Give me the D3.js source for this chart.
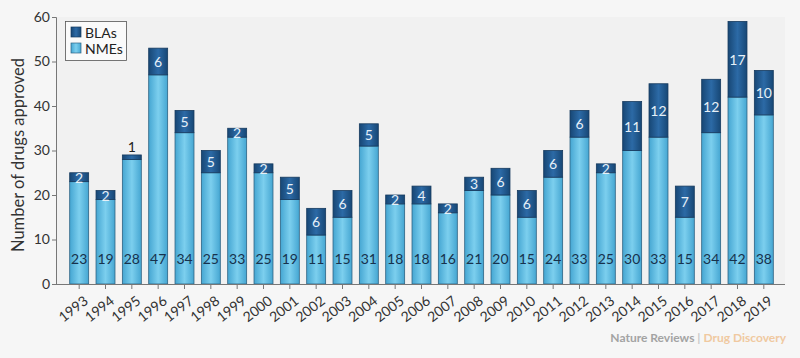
<!DOCTYPE html>
<html><head><meta charset="utf-8">
<script src="https://cdn.jsdelivr.net/npm/d3@7"></script>
<style>
html,body{margin:0;padding:0;background:#f6f6f6;}
svg{display:block;font-family:Lato,"Open Sans",sans-serif;}
</style></head>
<body>
<svg id="chart" width="800" height="358"></svg>
<script>
const years = ["1993","1994","1995","1996","1997","1998","1999","2000","2001","2002","2003","2004","2005","2006","2007","2008","2009","2010","2011","2012","2013","2014","2015","2016","2017","2018","2019"];
const nmes = [23,19,28,47,34,25,33,25,19,11,15,31,18,18,16,21,20,15,24,33,25,30,33,15,34,42,38];
const blas = [2,2,1,6,5,5,2,2,5,6,6,5,2,4,2,3,6,6,6,6,2,11,12,7,12,17,10];
const yTicks = [0,10,20,30,40,50,60];
const seriesNames = ["BLAs","NMEs"];

const svg = d3.select("#chart");
const x0 = 56, x1 = 787, yTop = 17, yBot = 284;

const x = d3.scaleBand().domain(years).range([x0, x1]).paddingInner(0.28).paddingOuter(0.52);
const y = d3.scaleLinear().domain([0, 60]).range([yBot, yTop]);

const defs = svg.append("defs");
function grad(id, edge, mid) {
  const g = defs.append("linearGradient").attr("id", id).attr("x1","0%").attr("x2","100%").attr("y1","0%").attr("y2","0%");
  g.append("stop").attr("offset","0%").attr("stop-color",edge);
  g.append("stop").attr("offset","50%").attr("stop-color",mid);
  g.append("stop").attr("offset","100%").attr("stop-color",edge);
}
grad("gN", "#45a6d2", "#7ccfee");
grad("gB", "#174775", "#2c6aa6");

svg.append("rect").attr("x", x0).attr("y", yTop).attr("width", 785 - x0).attr("height", yBot - yTop).attr("fill", "#f1f1f1");

const data = years.map((yr, i) => ({yr, n: nmes[i], b: blas[i]}));
const bw = x.bandwidth();
const g = svg.append("g");
g.selectAll("rect.n").data(data).join("rect")
  .attr("x", d => x(d.yr)).attr("width", bw)
  .attr("y", d => y(d.n)).attr("height", d => y(0) - y(d.n))
  .attr("fill", "url(#gN)").attr("stroke", "#2e6383").attr("stroke-width", 0.8);
g.selectAll("rect.b").data(data).join("rect")
  .attr("x", d => x(d.yr)).attr("width", bw)
  .attr("y", d => y(d.n + d.b)).attr("height", d => y(d.n) - y(d.n + d.b))
  .attr("fill", "url(#gB)").attr("stroke", "#163a5e").attr("stroke-width", 0.8);

g.selectAll("text.n").data(data).join("text")
  .attr("x", d => x(d.yr) + bw / 2).attr("y", y(5.8))
  .attr("text-anchor", "middle").attr("dominant-baseline", "central")
  .attr("font-size", 14).attr("fill", "#17324d").text(d => d.n);
g.selectAll("text.b").data(data).join("text")
  .attr("x", d => x(d.yr) + bw / 2)
  .attr("y", d => d.b >= 2 ? y(d.n + d.b / 2) : y(d.n + d.b) - 8)
  .attr("text-anchor", "middle").attr("dominant-baseline", "central")
  .attr("font-size", 14).attr("fill", d => d.b >= 2 ? "#e6f0f8" : "#222").text(d => d.b);

const yAxis = svg.append("g").attr("transform", `translate(${x0},0)`)
  .call(d3.axisLeft(y).tickValues(yTicks).tickSize(4).tickPadding(2));
const xAxis = svg.append("g").attr("transform", `translate(0,${yBot})`)
  .call(d3.axisBottom(x).tickSize(5).tickSizeOuter(0));
xAxis.select(".domain").attr("d", `M${x0},0.5H785`);
[yAxis, xAxis].forEach(a => {
  a.select(".domain").attr("stroke", "#777");
  a.selectAll(".tick line").attr("stroke", "#777");
  a.selectAll(".tick text").attr("font-size", 14).attr("fill", "#333").attr("font-family", "Lato,'Open Sans',sans-serif");
});
xAxis.selectAll(".tick text")
  .attr("text-anchor", "end").attr("dy", null).attr("y", 0)
  .attr("transform", "translate(3,10) rotate(-38)")
  .attr("dominant-baseline", "hanging");

svg.append("text").attr("transform", `translate(24,155) rotate(-90)`)
  .attr("text-anchor", "middle").attr("font-size", 16.5).attr("fill", "#333")
  .text("Number of drugs approved");

const lg = svg.append("g");
lg.append("rect").attr("x", 65.5).attr("y", 21.5).attr("width", 61).attr("height", 39)
  .attr("fill", "#fafafa").attr("stroke", "#555").attr("stroke-width", 0.8);
const legColors = {"BLAs": "url(#gB)", "NMEs": "url(#gN)"};
const legStroke = {"BLAs": "#163a5e", "NMEs": "#2e6383"};
seriesNames.forEach((s, i) => {
  lg.append("rect").attr("x", 71).attr("y", 27 + i * 16).attr("width", 10).attr("height", 10)
    .attr("fill", legColors[s]).attr("stroke", legStroke[s]).attr("stroke-width", 0.7);
  lg.append("text").attr("x", 85).attr("y", 32 + i * 16).attr("dominant-baseline", "central")
    .attr("font-size", 14).attr("fill", "#222").text(s);
});

const ft = svg.append("text").attr("x", 786).attr("y", 342).attr("text-anchor", "end")
  .attr("font-size", 12).attr("font-weight", "bold");
ft.append("tspan").attr("fill", "#a3a3a3").text("Nature Reviews ");
ft.append("tspan").attr("fill", "#c9c9c9").text("| ");
ft.append("tspan").attr("fill", "#f0c9a0").text("Drug Discovery");
</script>
</body></html>
